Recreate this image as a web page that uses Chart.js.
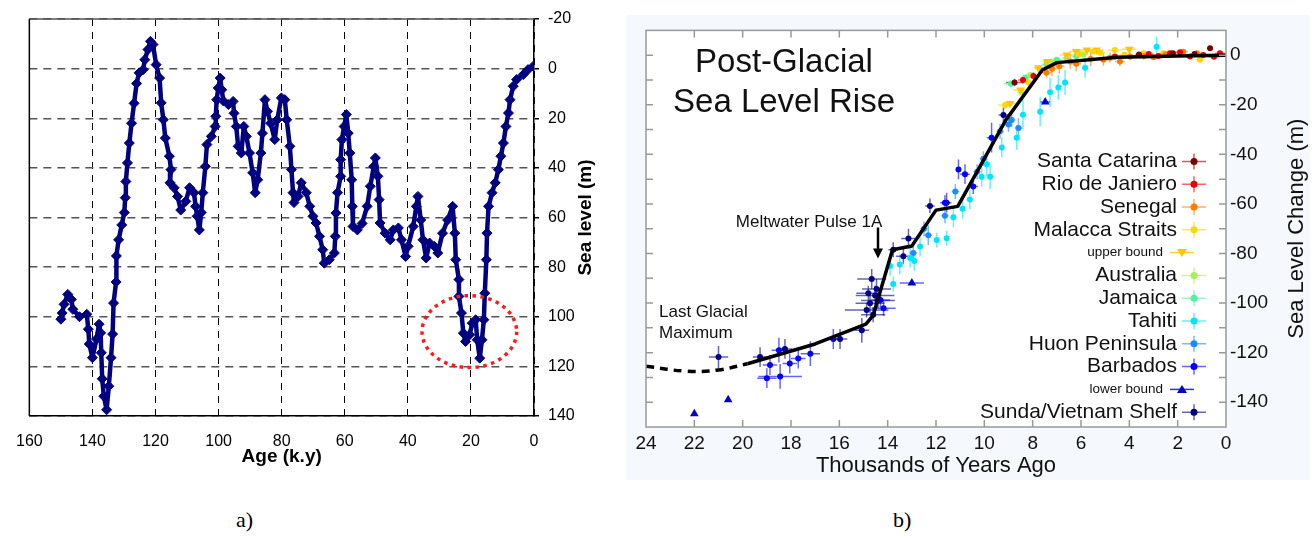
<!DOCTYPE html>
<html>
<head>
<meta charset="utf-8">
<script src="https://cdn.jsdelivr.net/npm/chart.js@4.4.0/dist/chart.umd.min.js"></script>
<style>
  body { margin: 0; width: 1314px; height: 539px; background: #fff; position: relative; overflow: hidden; }
  #boxA { position: absolute; left: 0; top: 0; width: 620px; height: 480px; }
  #boxB { position: absolute; left: 626px; top: 15px; width: 684px; height: 465px; background: #f5f8fc; }
  .cap { position: absolute; top: 507px; font: 22px "Liberation Serif", "Times New Roman", serif; color: #000; }
</style>
</head>
<body>
<div id="boxA"><canvas id="chartA" width="620" height="480"></canvas></div>
<div id="boxB"><canvas id="chartB" width="684" height="465"></canvas></div>
<div class="cap" style="left:236px">a)</div>
<div class="cap" style="left:893px">b)</div>
<script>
// ---------- a) sea level over the last glacial cycle ----------
const ageKy = [150,149.6,149,147.8,146.7,146.2,144.1,141.8,141.3,141,140,138.7,137.9,137.4,137.2,136.9,136.4,135.5,134.8,134.1,
  133.6,133.3,132.5,132.4,131.7,130.7,129.9,129.6,129.4,128.9,128.3,127.6,126.8,126,125.2,123.9,123.4,122.4,121.6,120.8,
  119.8,118.7,118.2,117.5,116.9,115.6,115.1,115.4,114.1,113,112,110.4,109.2,107.8,107.3,106.8,106.1,105.5,105,104.2,
  103.7,102.3,101.1,100.9,100.6,100.1,99.5,99,98.5,96.9,95.4,95.1,94.4,93.8,92.8,92,91.2,90.2,89.2,88.4,
  87.6,86.6,86.1,85.3,84.5,83.5,82.2,81.4,80.1,79,78.4,77.4,76.9,76.4,76.1,74.8,73.8,72.2,71.1,70.1,
  69.1,68,67,66.5,64.9,63.3,63,62.8,62.3,61.3,61.3,60.9,60.2,59.5,58.9,58.4,57.8,57.6,57.4,56,
  54.5,52.9,51.9,50.8,50.3,49.5,49.1,48.8,47.2,45.6,44.6,43,42,40.7,39.9,38.3,37.3,36.8,35.9,35.2,
  34.2,33.1,31.6,30.5,29,27.4,25.8,25.1,24.8,23.8,23.8,23,22.4,21.7,20.4,19.6,18.5,18,17.2,16.5,
  15.9,15.6,15.1,14.9,14.4,13.3,12.3,11.3,10.5,9.7,8.9,8.1,7.6,6.6,5.5,3.4,1.9,0.2];
const seaLevelM = [101,98.5,95,91,93,97,100,99,105,111,116.5,109,103,106.5,114.5,125,132,137.5,128,116.5,
  107,94.5,86,75.5,69,63,58,52,45.5,38,30,22,14,6,1.7,0.4,-3.6,-7.7,-11,-9.7,
  -1.6,3.8,13.8,20.6,28,35.3,40.7,46,48,51.5,57,53.5,48,50,55.5,59.5,65,58,50,39.4,
  30.6,27.3,23.3,19.2,12.5,7.8,3.8,8.5,13,14.5,13.2,18,23.3,31.3,34,23.3,27.3,34,42,50,
  44.8,34,26,12.5,17.2,22,28.6,20.6,11.8,12.5,20.6,31.3,40.7,50,54,51.5,46,50,55.5,59.5,
  62.2,67.6,73,78.4,77,74.3,67.6,58.2,50,43.4,36.7,28.6,23.3,18.5,26,34,44.8,55.5,63.6,65,
  62.4,55.5,47.4,39.4,36,43.4,52.8,62.2,66.3,69,65,64.2,69,75.7,71.6,63.6,55.5,51.5,61,69,
  76.3,70.3,71.6,74.3,66.3,61,55.5,66.3,77,85,91.8,98.5,106.6,110,107.3,102.6,101.2,109.3,116.7,109.3,
  101.2,90.5,77,66.3,55.5,50,46,40.7,35.3,30,23.3,17.9,12.5,7.1,4.4,2.4,0.4,-1];
const ageTicks = [0, 160, 20];        // min, max, step
const levelTicks = [-20, 140, 20];
const lgmRing = [20.5, 106, 15, 14.5]; // centre age, centre level, half width (ky), half height (m)

// ---------- b) post-glacial sea level rise ----------
const siteNames = ['Santa Catarina', 'Rio de Janiero', 'Senegal', 'Malacca Straits', 'upper bound', 'Australia',
  'Jamaica', 'Tahiti', 'Huon Peninsula', 'Barbados', 'lower bound', 'Sunda/Vietnam Shelf'];
const siteColors = ['#800000', '#ee0000', '#ff7b00', '#ffd600', '#ffc400', '#a6f05a',
  '#4cf2a4', '#00e5ff', '#1a8cff', '#0000ff', '#0000d0', '#00008b'];
// [age ka, level m, age error, level error]
const santaCatarina = [[8.75,-11,0.35,1.5],[0.66,2.8,0.1,1],[1.3,0.5,0.15,1],[2.2,0.8,0.15,1],[3.6,0.3,0.15,1]];
const rioDeJaniero = [[7.97,-8.4,0.2,1.5],[8.4,-10,0.2,1.5],[2.32,0.8,0.2,1],[1.49,-0.5,0.2,1],[0.94,0.1,0.2,1],
  [0.25,0.8,0.2,1],[3.2,0.5,0.2,1],[4.6,-0.5,0.2,1],[1.9,1.2,0.2,1],[2.8,-0.3,0.2,1],[0.5,-0.6,0.2,1]];
const senegal = [[6.45,-2.5,0.2,3],[5.07,-1.8,0.2,2.5],[4.39,-2.5,0.2,2],[3.97,-0.5,0.2,1.5],[1.77,1.4,0.2,1],
  [7.43,-7.1,0.2,2],[5.6,-1.5,0.2,3],[3.0,-0.8,0.2,1],[6.9,-4.5,0.2,3],[7.2,-5.5,0.2,3],[6.2,-3.5,0.2,3],
  [4.8,-1,0.2,2],[3.4,-0.3,0.2,1.5],[2.5,0.4,0.2,1],[1.2,0.8,0.2,1]];
const malacca = [[9.14,-20.2,0.3,1.5],[8.18,-11,0.2,1.5],[4.6,2.1,0.3,1],[3.42,0.8,0.2,1],[2.6,0.8,0.2,1],
  [1.08,-1.8,0.2,1],[6.1,0.5,0.2,1],[5.2,1,0.2,1],[4.2,0.2,0.2,1],[5.5,1.5,0.2,1]];
const upperBound = [[8.94,-19.5,0.3,0],[7.76,-5.1,0.2,0],[6.59,0.1,0.3,0],[5.76,2.1,0.3,0],[5.36,2.1,0.3,0],
  [8.5,-14,0.3,0],[4.0,2.4,0.3,0],[7.4,-2.5,0.2,0],[6.2,1.5,0.3,0]];
const australia = [[8.46,-15,0.2,1],[7.2,-2.5,0.2,1],[6.6,-1,0.2,1],[5.9,0.2,0.2,1],[8.1,-8,0.2,1]];
const jamaica = [[8.9,-11.5,0.3,1.5],[7.43,-3.8,0.2,1],[7.0,-1.8,0.2,1],[6.19,-0.5,0.2,1],[7.7,-5.5,0.2,1],[8.3,-9,0.2,1]];
const tahiti = [[13.77,-92.3,0.1,3],[13.5,-84.4,0.1,4],[13.07,-81.8,0.1,4],[12.66,-77.2,0.1,4],[11.97,-74.6,0.1,3],
  [11.56,-73.9,0.1,3],[11.28,-65.4,0.1,4],[10.6,-58.2,0.1,4],[10.11,-49,0.1,4],[9.76,-49,0.1,5],[9.28,-37.2,0.1,4],
  [8.66,-33.3,0.1,5],[7.69,-22.8,0.1,6],[7.28,-15,0.1,6],[6.94,-13,0.1,5],[6.66,-11,0.1,5],[5.83,-5.1,0.1,4],
  [2.87,3.4,0.1,4],[13.9,-85,0.1,4],[12.9,-83,0.1,4],[10.9,-62,0.1,4],[9.9,-44,0.1,5],[8.4,-24,0.1,6]];
const huon = [[12.94,-79.8,0.15,3],[12.32,-72.6,0.15,4],[11.63,-64.8,0.15,3],[10.04,-41.8,0.15,3],[9.35,-30.7,0.15,3],
  [8.87,-26.1,0.15,3],[8.59,-29.4,0.15,4],[10.3,-47,0.15,3],[9.0,-28,0.15,3],[12.5,-70,0.15,3],[11.2,-55,0.15,3]];
const barbados = [[19.0,-130.3,0.4,4],[18.87,-125,0.3,4],[18.45,-129.6,0.9,5],[18.5,-119,0.3,5],[18.05,-124.4,0.3,4],
  [17.7,-122.4,0.3,4],[17.2,-120.4,0.4,5],[16.25,-114.5,0.3,4],[14.3,-98.8,0.4,3],[14.17,-102.1,0.5,3],
  [11.07,-46.1,0.1,4],[11.63,-59.5,0.2,3],[10.46,-53,0.2,3],[9.7,-33.3,0.2,6],[10.8,-48,0.2,4]];
const lowerBound = [[22.0,-144.7,0,0],[20.6,-139,0,0],[13.0,-91.9,0.5,0],[7.48,-18.9,0.2,0]];
const sunda = [[21.0,-121.8,0.4,4.5],[19.28,-121.8,0.3,4],[18.25,-118.5,0.3,4],[15.97,-114.5,0.3,4],[15.07,-111,0.3,5],
  [14.66,-90.3,0.6,4],[14.52,-96.9,0.8,4],[14.73,-100.1,0.6,4],[14.87,-102.8,0.9,3],[14.6,-104.7,0.5,3],
  [14.46,-94.3,0.6,4],[13.77,-78.5,0.2,3],[13.35,-81.1,0.3,3],[13.14,-74,0.3,4],[11.56,-59.5,0.2,4],
  [12.25,-60.8,0.2,3],[9.21,-24.1,0.2,3],[14.4,-99,0.7,3],[14.8,-96,0.5,3]];
const siteRows = [santaCatarina, rioDeJaniero, senegal, malacca, upperBound, australia, jamaica, tahiti, huon, barbados, lowerBound, sunda];

const modelAge = [19.8, 17, 14.9, 14.6, 13.8, 13, 12, 11.1, 9.1, 7.6, 7, 4.5, 2, 0];
const modelLevel = [-124.5, -116.5, -108.5, -105, -78.5, -77, -62.5, -61, -26, -6, -3, -0.8, -0.3, 0];
const lgmAge = [24, 22.3, 21, 19.8];
const lgmLevel = [-125.5, -127.5, -127, -124.5];
const mwpArrow = [14.4, -69.5, -82];   // age, from level, to level

Chart.defaults.font.family = '"Liberation Sans", Arial, sans-serif';
Chart.defaults.color = '#000';

const frameA = {
  id: 'frameA',
  afterDatasetsDraw(chart) {
    const { ctx, chartArea: a, scales } = chart;
    ctx.save();
    ctx.lineWidth = 1.5;
    ctx.strokeStyle = '#555';
    ctx.beginPath(); ctx.moveTo(a.left, a.top); ctx.lineTo(a.right, a.top); ctx.stroke();
    ctx.strokeStyle = '#000';
    ctx.beginPath(); ctx.moveTo(a.left, a.top); ctx.lineTo(a.left, a.bottom); ctx.stroke();
    // dotted ring around the last glacial maximum
    const cx = scales.x.getPixelForValue(lgmRing[0]);
    const cy = scales.y.getPixelForValue(lgmRing[1]);
    const rx = Math.abs(scales.x.getPixelForValue(lgmRing[0] + lgmRing[2]) - cx);
    const ry = Math.abs(scales.y.getPixelForValue(lgmRing[1] + lgmRing[3]) - cy);
    ctx.strokeStyle = '#ff1a1a';
    ctx.lineWidth = 3.5;
    ctx.setLineDash([3.5, 4.5]);
    ctx.beginPath(); ctx.ellipse(cx, cy, rx, ry, 0, 0, Math.PI * 2); ctx.stroke();
    ctx.setLineDash([]);
    // right axis title, reading upwards
    ctx.fillStyle = '#000';
    ctx.font = 'bold 19px "Liberation Sans", Arial, sans-serif';
    ctx.translate(586, (a.top + a.bottom) / 2);
    ctx.rotate(-Math.PI / 2);
    ctx.textAlign = 'center';
    ctx.textBaseline = 'middle';
    ctx.fillText('Sea level (m)', 0, 0);
    ctx.restore();
  }
};

new Chart(document.getElementById('chartA'), {
  type: 'line',
  data: {
    datasets: [{
      data: ageKy.map((a, i) => ({ x: a, y: seaLevelM[i] })),
      borderColor: '#000080',
      backgroundColor: '#000080',
      borderWidth: 4.5,
      borderJoinStyle: 'round',
      borderCapStyle: 'round',
      tension: 0,
      pointStyle: 'rectRot',
      pointRadius: 5,
      pointBorderWidth: 1
    }]
  },
  options: {
    responsive: false,
    animation: false,
    events: [],
    layout: { padding: { left: 21, top: 19, right: 0, bottom: 0 } },
    plugins: { legend: { display: false }, tooltip: { enabled: false } },
    scales: {
      x: {
        type: 'linear', reverse: true, min: ageTicks[0], max: ageTicks[1],
        afterFit(s) { s.height = 64; },
        ticks: { stepSize: ageTicks[2], font: { size: 16 }, padding: 16 },
        grid: { color: '#000', lineWidth: 1, drawTicks: false },
        border: { color: '#000', width: 1.5, dash: [7, 6] },
        title: { display: true, text: 'Age (k.y)', font: { size: 19, weight: 'bold' }, padding: { top: 0, bottom: 12 } }
      },
      y: {
        type: 'linear', position: 'right', reverse: true, min: levelTicks[0], max: levelTicks[1],
        afterFit(s) { s.width = 86; },
        ticks: { stepSize: levelTicks[2], font: { size: 16 }, padding: 9 },
        grid: { color: '#555', lineWidth: 1.5, tickLength: 5, tickColor: '#000', tickBorderDash: [] },
        border: { color: '#000', width: 1.5, dash: [8, 6] }
      }
    }
  },
  plugins: [frameA]
});

// ---------- b) ----------
const errorBars = {
  id: 'errorBars',
  beforeDraw(chart) {
    const { ctx, chartArea: a } = chart;
    ctx.save();
    ctx.fillStyle = '#fff';
    ctx.fillRect(a.left, a.top, a.width, a.height);
    ctx.restore();
  },
  beforeDatasetsDraw(chart) {
    const { ctx, chartArea: a, scales: { x, y } } = chart;
    ctx.save();
    ctx.beginPath(); ctx.rect(a.left, a.top, a.width, a.height); ctx.clip();
    ctx.lineWidth = 1.5;
    ctx.globalAlpha = 0.6;
    chart.data.datasets.forEach(ds => {
      if (!ds.errors) return;
      ctx.strokeStyle = ds.borderColor;
      ds.errors.forEach((e, i) => {
        const p = ds.data[i];
        const px = x.getPixelForValue(p.x), py = y.getPixelForValue(p.y);
        ctx.beginPath();
        if (e[0]) { ctx.moveTo(x.getPixelForValue(p.x - e[0]), py); ctx.lineTo(x.getPixelForValue(p.x + e[0]), py); }
        if (e[1]) { ctx.moveTo(px, y.getPixelForValue(p.y - e[1])); ctx.lineTo(px, y.getPixelForValue(p.y + e[1])); }
        ctx.stroke();
      });
    });
    ctx.restore();
  }
};

const decorB = {
  id: 'decorB',
  afterDraw(chart) {
    const { ctx, chartArea: a, scales: { x, y } } = chart;
    ctx.save();
    // frame with inward ticks
    ctx.strokeStyle = '#999';
    ctx.lineWidth = 1.5;
    ctx.strokeRect(a.left, a.top, a.width, a.height);
    ctx.beginPath();
    x.ticks.forEach(t => {
      const px = x.getPixelForValue(t.value);
      if (px <= a.left + 1 || px >= a.right - 1) return;
      ctx.moveTo(px, a.bottom); ctx.lineTo(px, a.bottom - 7);
      ctx.moveTo(px, a.top); ctx.lineTo(px, a.top + 7);
    });
    y.ticks.forEach(t => {
      const py = y.getPixelForValue(t.value);
      if (py <= a.top + 1 || py >= a.bottom - 1) return;
      ctx.moveTo(a.left, py); ctx.lineTo(a.left + 7, py);
      ctx.moveTo(a.right, py); ctx.lineTo(a.right - 7, py);
    });
    ctx.stroke();

    // arrow for meltwater pulse 1A
    const ax = x.getPixelForValue(mwpArrow[0]);
    const ay1 = y.getPixelForValue(mwpArrow[1]);
    const ay2 = y.getPixelForValue(mwpArrow[2]);
    ctx.strokeStyle = '#000'; ctx.fillStyle = '#000'; ctx.lineWidth = 2.5;
    ctx.beginPath(); ctx.moveTo(ax, ay1); ctx.lineTo(ax, ay2 - 8); ctx.stroke();
    ctx.beginPath(); ctx.moveTo(ax - 5, ay2 - 10); ctx.lineTo(ax + 5, ay2 - 10); ctx.lineTo(ax, ay2); ctx.closePath(); ctx.fill();

    // texts
    const sans = '"Liberation Sans", Arial, sans-serif';
    ctx.fillStyle = '#111';
    ctx.textBaseline = 'alphabetic';
    ctx.textAlign = 'center';
    ctx.font = '33px ' + sans;
    ctx.fillText('Post-Glacial', a.left + 138, a.top + 42);
    ctx.fillText('Sea Level Rise', a.left + 138, a.top + 82);
    ctx.font = '17px ' + sans;
    ctx.fillText('Meltwater Pulse 1A', a.left + 163, a.top + 197);
    ctx.textAlign = 'left';
    ctx.fillText('Last Glacial', a.left + 13, a.top + 287);
    ctx.fillText('Maximum', a.left + 13, a.top + 308);

    // legend, right aligned
    ctx.textAlign = 'right';
    ctx.textBaseline = 'middle';
    siteNames.forEach((name, i) => {
      const ry = a.top + 131 + i * 22.8;
      const small = name.indexOf('bound') >= 0;
      const col = siteColors[i];
      if (small) {
        ctx.font = '13.5px ' + sans;
        ctx.fillStyle = '#111';
        ctx.fillText(name, a.right - 63, ry);
        ctx.strokeStyle = col; ctx.lineWidth = 1.5; ctx.globalAlpha = 0.8;
        ctx.beginPath(); ctx.moveTo(a.right - 56, ry); ctx.lineTo(a.right - 32, ry); ctx.stroke();
        ctx.globalAlpha = 1;
        ctx.fillStyle = col;
        const tx = a.right - 44, d = i === 4 ? 1 : -1;
        ctx.beginPath(); ctx.moveTo(tx - 5, ry - 3.5 * d); ctx.lineTo(tx + 5, ry - 3.5 * d); ctx.lineTo(tx, ry + 4.5 * d); ctx.closePath(); ctx.fill();
      } else {
        ctx.font = '21px ' + sans;
        ctx.fillStyle = '#111';
        ctx.fillText(name, a.right - 49, ry);
        ctx.strokeStyle = col; ctx.lineWidth = 1.5; ctx.globalAlpha = 0.6;
        ctx.beginPath();
        ctx.moveTo(a.right - 44, ry); ctx.lineTo(a.right - 20, ry);
        ctx.moveTo(a.right - 32, ry - 8); ctx.lineTo(a.right - 32, ry + 8);
        ctx.stroke();
        ctx.globalAlpha = 1;
        ctx.fillStyle = col;
        ctx.beginPath(); ctx.arc(a.right - 32, ry, 3.5, 0, Math.PI * 2); ctx.fill();
      }
    });

    // right axis title, reading upwards
    ctx.fillStyle = '#111';
    ctx.font = '22px ' + sans;
    ctx.textAlign = 'center';
    ctx.translate(671, (a.top + a.bottom) / 2);
    ctx.rotate(-Math.PI / 2);
    ctx.fillText('Sea Level Change (m)', 0, 0);
    ctx.restore();
  }
};

const siteSets = siteRows.map((rows, i) => {
  const tri = siteNames[i].indexOf('bound') >= 0;
  return {
    label: siteNames[i],
    data: rows.map(r => ({ x: r[0], y: r[1] })),
    errors: rows.map(r => [r[2], r[3]]),
    borderColor: siteColors[i],
    backgroundColor: siteColors[i],
    pointStyle: tri ? 'triangle' : 'circle',
    rotation: i === 4 ? 180 : 0,
    pointRadius: tri ? 5 : 3,
    pointBorderWidth: 0,
    order: 1
  };
});

new Chart(document.getElementById('chartB'), {
  type: 'scatter',
  data: {
    datasets: [
      {
        label: 'model', data: modelAge.map((a, i) => ({ x: a, y: modelLevel[i] })),
        showLine: true, borderColor: '#000', borderWidth: 3.5, borderJoinStyle: 'round', pointRadius: 0, order: 0
      },
      {
        label: 'lgm', data: lgmAge.map((a, i) => ({ x: a, y: lgmLevel[i] })),
        showLine: true, borderColor: '#000', borderWidth: 3.5, borderDash: [8, 6], pointRadius: 0, tension: 0.4, order: 0
      },
      ...siteSets
    ]
  },
  options: {
    responsive: false,
    animation: false,
    events: [],
    layout: { padding: { left: 20, top: 6, right: 0, bottom: 0 } },
    plugins: { legend: { display: false }, tooltip: { enabled: false } },
    scales: {
      x: {
        type: 'linear', reverse: true, min: 0, max: 24,
        afterFit(s) { s.height = 53; },
        ticks: { stepSize: 2, font: { size: 19 }, padding: 5, color: '#111' },
        grid: { display: false, drawTicks: false },
        border: { display: false },
        title: { display: true, text: 'Thousands of Years Ago', font: { size: 22 }, color: '#111', padding: { top: 0, bottom: 1 } }
      },
      y: {
        type: 'linear', position: 'right', min: -150, max: 10,
        afterFit(s) { s.width = 84; },
        ticks: { stepSize: 10, autoSkip: false, font: { size: 19 }, padding: 4, color: '#111',
          callback: v => (v % 20 === 0 ? v : '') },
        grid: { display: false, drawTicks: false },
        border: { display: false }
      }
    }
  },
  plugins: [errorBars, decorB]
});
</script>
</body>
</html>
